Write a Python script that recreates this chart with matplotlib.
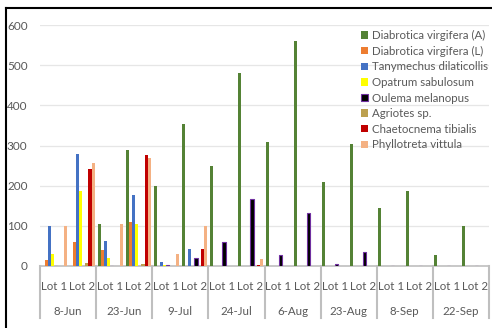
import numpy as np
import matplotlib
matplotlib.use('Agg')
import matplotlib.pyplot as plt
from matplotlib.lines import Line2D
from matplotlib.patches import Patch

plt.rcParams['font.family'] = ['Lato', 'DejaVu Sans']

# categories
dates = ['8-Jun', '23-Jun', '9-Jul', '24-Jul', '6-Aug', '23-Aug', '8-Sep', '22-Sep']
lots = ['Lot 1', 'Lot 2']

# series values, one per (date, lot)
diabrotica_a = [0, 0, 104, 288, 198, 354, 250, 480, 308, 560, 209, 303, 144, 187, 27, 99]
diabrotica_l = [15, 60, 40, 110, 0, 0, 0, 0, 0, 0, 0, 0, 0, 0, 0, 0]
tanymechus = [100, 279, 62, 177, 10, 42, 0, 0, 0, 0, 0, 0, 0, 0, 0, 0]
opatrum = [30, 187, 20, 104, 2, 0, 0, 0, 0, 0, 0, 0, 0, 0, 0, 0]
oulema = [0, 0, 0, 0, 3, 21, 60, 168, 27, 132, 4, 34, 0, 0, 0, 0]
agriotes = [0, 7, 0, 4, 0, 0, 0, 0, 0, 0, 0, 0, 0, 0, 0, 0]
chaetocnema = [0, 241, 0, 277, 0, 42, 0, 3, 0, 0, 0, 0, 0, 0, 0, 0]
phyllotreta = [100, 256, 105, 269, 29, 99, 0, 17, 0, 0, 0, 0, 0, 0, 0, 0]

series = [
    ('Diabrotica virgifera (A)', diabrotica_a, '#548235', '#548235'),
    ('Diabrotica virgifera (L)', diabrotica_l, '#ED7D31', '#ED7D31'),
    ('Tanymechus dilaticollis', tanymechus, '#4472C4', '#4472C4'),
    ('Opatrum sabulosum', opatrum, '#FFFF00', '#FFFF00'),
    ('Oulema melanopus', oulema, '#000000', '#7030A0'),
    ('Agriotes sp.', agriotes, '#BCA04F', '#BCA04F'),
    ('Chaetocnema tibialis', chaetocnema, '#C00000', '#C00000'),
    ('Phyllotreta vittula', phyllotreta, '#F4B183', '#F4B183'),
]

grey = '#595959'
line_grey = '#BFBFBF'

fig = plt.figure(figsize=(4.92, 3.28), dpi=100)
ax = fig.add_axes([40 / 492, 62 / 328, 449 / 492, 241 / 328])

n_cat = len(dates) * len(lots)
x = np.arange(n_cat)
group = 0.9
w = group / len(series)
for i, (name, vals, fc, ec) in enumerate(series):
    off = -group / 2 + w * (i + 0.5)
    lw = 0.8 if fc != ec else 0
    ax.bar(x + off, vals, width=w, color=fc, edgecolor=ec, linewidth=lw, label=name, zorder=3)

ax.set_xlim(-0.5, n_cat - 0.5)
ax.set_ylim(0, 600)
ax.set_yticks(range(0, 601, 100))
ax.yaxis.grid(True, color='#E6E6E6', linewidth=0.9, zorder=0)
ax.tick_params(axis='y', length=0, pad=9, labelsize=8.5, labelcolor=grey)
for s in ['top', 'right', 'left']:
    ax.spines[s].set_visible(False)
ax.spines['bottom'].set_color(line_grey)
ax.spines['bottom'].set_linewidth(1.2)

# two-level category axis
ax.set_xticks(x)
ax.set_xticklabels(lots * len(dates))
ax.tick_params(axis='x', length=0, pad=10.5, labelsize=8.3, labelcolor=grey)
trans = ax.get_xaxis_transform()
for k in range(len(dates) + 1):
    ax.plot([2 * k - 0.5, 2 * k - 0.5], [0, -0.216], transform=trans,
            color=line_grey, linewidth=1.5, clip_on=False)
for k, d in enumerate(dates):
    ax.text(2 * k + 0.5, -0.19, d, transform=trans, ha='center', va='center',
            fontsize=8.3, color=grey)

handles = [Patch(facecolor=fc, edgecolor=ec, linewidth=(0.8 if fc != ec else 0))
           for _, _, fc, ec in series]
fig.legend(handles, [s[0] for s in series], loc='upper left',
           bbox_to_anchor=(361 / 492, 1 - 30 / 328), frameon=False,
           fontsize=8.3, labelcolor=grey, handlelength=0.6, handleheight=0.6,
           handletextpad=0.35, labelspacing=0.4, borderaxespad=0, borderpad=0)

# outer frame (top and left edges)
fig.add_artist(Line2D([6 / 492, 6 / 492], [0, 1 - 8 / 328], color='black', linewidth=1.5))
fig.add_artist(Line2D([6 / 492, 1], [1 - 8 / 328, 1 - 8 / 328], color='black', linewidth=1.5))

fig.savefig('out.png', dpi=100)
